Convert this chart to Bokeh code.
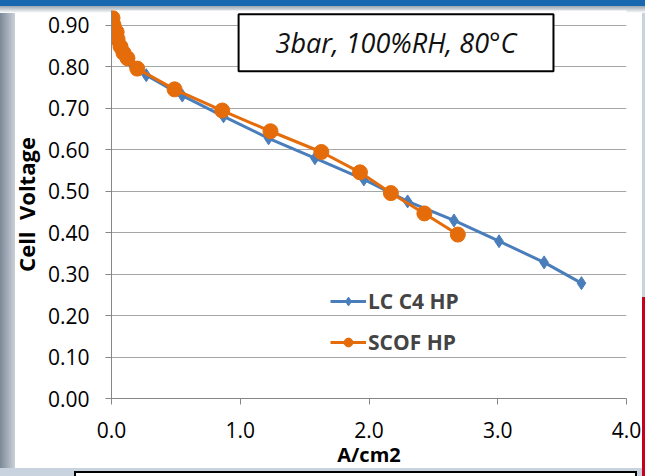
from bokeh.plotting import figure
from bokeh.models import (Range1d, FixedTicker, Legend, LegendItem, Label,
                          NumeralTickFormatter)
from bokeh.embed import file_html
from bokeh.resources import INLINE

# ---- data ----
lc_x = [0.0, 0.02, 0.05, 0.10, 0.16, 0.27, 0.55, 0.87, 1.22, 1.58, 1.96, 2.30, 2.66, 3.01, 3.36, 3.65]
lc_y = [0.910, 0.880, 0.850, 0.825, 0.805, 0.779, 0.730, 0.680, 0.627, 0.579, 0.528, 0.475, 0.429, 0.379, 0.328, 0.278]
scof_x = [0.008, 0.016, 0.04, 0.047, 0.07, 0.093, 0.124, 0.20, 0.49, 0.86, 1.235, 1.63, 1.93, 2.17, 2.43, 2.69]
scof_y = [0.917, 0.900, 0.883, 0.866, 0.848, 0.833, 0.820, 0.795, 0.745, 0.694, 0.644, 0.594, 0.545, 0.495, 0.446, 0.395]
x_ticks = [0, 1, 2, 3, 4]
y_ticks = [0.0, 0.1, 0.2, 0.3, 0.4, 0.5, 0.6, 0.7, 0.8, 0.9]

FONT = "Open Sans"
BLUE = "#4A7EBB"
ORANGE = "#E46C0A"

p = figure(width=645, height=476, output_backend="svg", toolbar_location=None,
           x_range=Range1d(0, 4), y_range=Range1d(0, 0.935),
           min_border_left=111, min_border_right=19, min_border_top=10, min_border_bottom=78)
p.border_fill_alpha = 0
p.background_fill_color = "white"
p.outline_line_color = None

# slide background around the chart (CSS layers)
layers = [
    "linear-gradient(#000,#000) 74px 471px / 563px 2px no-repeat",
    "linear-gradient(#000,#000) 74px 471px / 2px 5px no-repeat",
    "linear-gradient(#000,#000) 635px 471px / 2px 5px no-repeat",
    "linear-gradient(#fff,#fff) 74px 471px / 563px 5px no-repeat",
    "linear-gradient(#C8001E,#C8001E) 642px 297px / 3px 179px no-repeat",
    "linear-gradient(#1768B0,#1768B0) 0px 0px / 645px 6px no-repeat",
    "linear-gradient(#9aa5b1,#ffffff) 0px 6px / 645px 7px no-repeat",
    "linear-gradient(#C9D3DF,#C9D3DF) 0px 468px / 645px 8px no-repeat",
    "linear-gradient(to right,#7d8896,#c9d1db) 0px 0px / 15px 476px no-repeat",
    "linear-gradient(#C9D3DF,#C9D3DF) 642px 0px / 3px 476px no-repeat",
    "white",
]
p.styles = {"background": ", ".join(layers)}

# axes
p.xaxis.ticker = FixedTicker(ticks=x_ticks)
p.yaxis.ticker = FixedTicker(ticks=y_ticks)
p.xaxis.formatter = NumeralTickFormatter(format="0.0")
p.yaxis.formatter = NumeralTickFormatter(format="0.00")
for ax in (p.xaxis, p.yaxis):
    ax.axis_line_color = "#868686"
    ax.major_tick_line_color = "#868686"
    ax.minor_tick_line_color = None
    ax.major_tick_in = 0
    ax.major_tick_out = 6
    ax.major_label_text_font = FONT
    ax.major_label_text_font_size = "21px"
    ax.major_label_text_color = "black"
    ax.axis_label_text_font = FONT
    ax.axis_label_text_font_style = "bold"
    ax.axis_label_text_color = "black"
p.xaxis.axis_label = "A/cm2"
p.yaxis.axis_label = "Cell\u00a0 Voltage"
p.xaxis.axis_label_text_font_size = "20px"
p.yaxis.axis_label_text_font_size = "22px"
p.xaxis.major_label_standoff = 17
p.xaxis.axis_label_standoff = 0
p.yaxis.major_label_standoff = 16
p.yaxis.axis_label_standoff = 4
p.xgrid.grid_line_color = None
p.ygrid.grid_line_color = "#A6A6A6"
p.ygrid.grid_line_width = 1

# series
l1 = p.line(lc_x, lc_y, line_color=BLUE, line_width=3)
m1 = p.scatter(lc_x, lc_y, marker="diamond", size=13, fill_color=BLUE, line_color=BLUE)
l2 = p.line(scof_x, scof_y, line_color=ORANGE, line_width=3)
m2 = p.scatter(scof_x, scof_y, marker="circle", size=15, fill_color=ORANGE, line_color=ORANGE)

legend = Legend(items=[LegendItem(label="LC C4 HP", renderers=[l1, m1]),
                       LegendItem(label="SCOF HP", renderers=[l2, m2])],
                location=(215, 38), background_fill_alpha=0, border_line_alpha=0,
                label_text_font=FONT, label_text_font_style="bold", label_text_font_size="21px",
                glyph_width=36, glyph_height=22, label_standoff=2, spacing=13, padding=4)
p.add_layout(legend)

# condition box
p.add_layout(Label(x=2.21, y=0.857, text="3bar, 100%RH, 80°C", text_align="center",
                   text_baseline="middle", text_font=FONT, text_font_style="italic",
                   text_font_size="27px", text_color="#111111",
                   border_line_color="black", border_line_width=2,
                   background_fill_color="white", padding=(37, 10)))

open("out.html", "w").write(file_html(p, INLINE))
